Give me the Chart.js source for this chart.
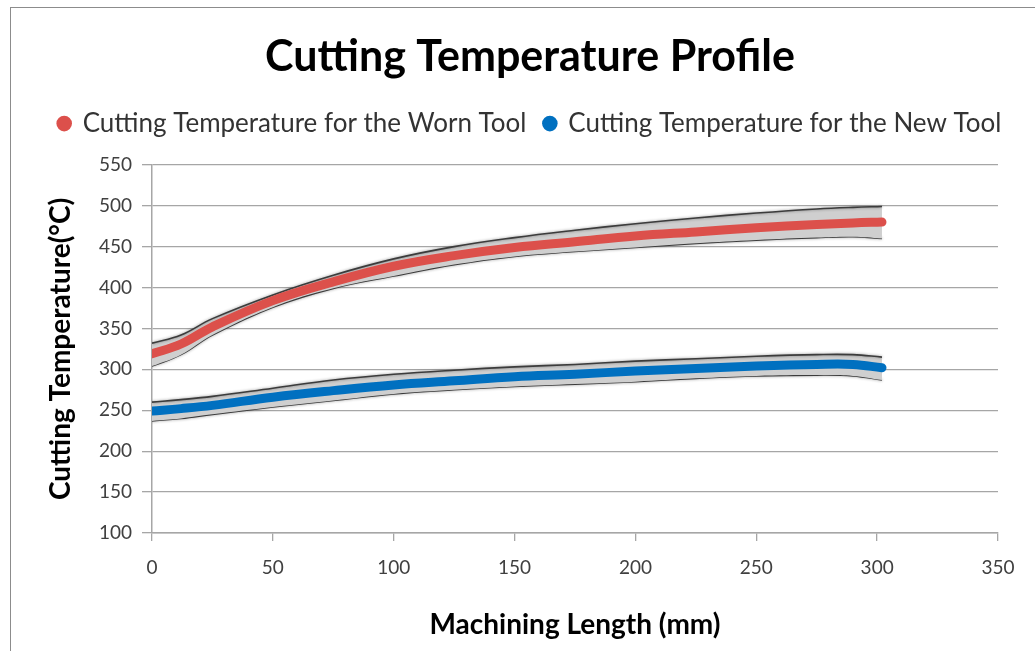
<!DOCTYPE html>
<html>
<head>
<meta charset="utf-8">
<script src="https://cdn.jsdelivr.net/npm/chart.js@4/dist/chart.umd.min.js"></script>
<style>
  html, body { margin: 0; padding: 0; background: #fff; }
  .wrap { position: relative; width: 1035px; height: 651px; overflow: hidden; }
  .frame { position: absolute; left: 10px; top: 7px; width: 1100px; height: 700px;
    border-left: 1.5px solid #8c8c8c; border-top: 1.5px solid #8c8c8c; }
  canvas { position: absolute; left: 0; top: 0; }
</style>
</head>
<body>
<div class="wrap">
  <div class="frame"></div>
  <canvas id="c" width="1035" height="651"></canvas>
</div>
<script>
// ===== data =====
const lengths   = [0, 12, 25, 50, 75, 100, 125, 150, 175, 200, 225, 250, 275, 290, 302];

const wornTemp  = [319, 331, 352, 384, 407, 426, 439, 449, 456, 463, 468, 473, 477, 479, 480];
const wornUpper = [332, 342, 362, 391, 415, 435, 450, 461, 470, 478, 485, 491, 496, 498, 499];
const wornLower = [304, 318, 342, 376, 399, 414, 428, 438, 444, 449, 454, 458, 461, 462, 460];

const newTemp   = [249, 252, 256, 266, 274, 281, 286, 291, 294, 298, 301, 304, 306, 306, 302];
const newUpper  = [260, 263, 267, 277, 287, 294, 299, 303, 306, 310, 313, 316, 318, 318, 315];
const newLower  = [237, 240, 245, 254, 262, 270, 275, 279, 282, 285, 289, 292, 293, 292, 287];

const xTicks = [0, 50, 100, 150, 200, 250, 300, 350];
const yTicks = [100, 150, 200, 250, 300, 350, 400, 450, 500, 550];

const RED = '#dc504b';
const BLUE = '#0070c0';
const FONT = 'Lato, "Open Sans", sans-serif';

function pts(ys) { return lengths.map((x, i) => ({ x, y: ys[i] })); }

// 中心粗线
function mainLine(label, ys, color) {
  return {
    label, data: pts(ys), order: 0,
    borderColor: color, backgroundColor: color, borderWidth: 9,
    borderCapStyle: 'round', borderJoinStyle: 'round',
    tension: 0.4, pointRadius: 0, fill: false,
  };
}
// 灰色误差带：上沿填充到下一条（下沿）
function bandEdge(ys, fillNext) {
  return {
    label: '', data: pts(ys), order: 1, band: true,
    borderColor: '#3c3c3c', borderWidth: 1.6,
    backgroundColor: '#cfcfcf',
    tension: 0.4, pointRadius: 0,
    fill: fillNext ? '+1' : false,
  };
}

const datasets = [
  mainLine('Cutting Temperature for the Worn Tool', wornTemp, RED),
  mainLine('Cutting Temperature for the New Tool', newTemp, BLUE),
  bandEdge(wornUpper, true), bandEdge(wornLower, false),
  bandEdge(newUpper, true), bandEdge(newLower, false),
];

// 误差带边缘带一点模糊阴影，和原图接近
const softEdge = {
  id: 'softEdge',
  beforeDatasetDraw(chart, args) {
    if (!args.meta._dataset.band) return;
    const ctx = chart.ctx;
    ctx.save();
    ctx.shadowColor = 'rgba(0,0,0,0.45)';
    ctx.shadowBlur = 3;
  },
  afterDatasetDraw(chart, args) {
    if (args.meta._dataset.band) chart.ctx.restore();
  },
};

const GRID = '#a6a6a6';

new Chart(document.getElementById('c'), {
  type: 'line',
  data: { datasets },
  plugins: [softEdge],
  options: {
    responsive: false,
    animation: false,
    layout: { padding: { left: 25, right: 0, top: 0, bottom: 0 } },
    plugins: {
      title: {
        display: true, text: 'Cutting Temperature Profile', color: '#000',
        font: { family: FONT, size: 43, weight: 'bold' },
        padding: { top: 31, bottom: 10 },
      },
      // 空白副标题放在图例和绘图区之间，当作间隔
      subtitle: { display: true, text: '', weight: 500, font: { size: 1 }, padding: { top: 17, bottom: 0 } },
      legend: {
        labels: {
          usePointStyle: true, pointStyle: 'circle', boxWidth: 11, boxHeight: 11,
          padding: 18, color: '#333',
          font: { family: FONT, size: 26 },
          generateLabels(chart) {
            return Chart.defaults.plugins.legend.labels.generateLabels(chart)
              .filter((l) => l.text)
              .map((l) => ({ ...l, lineWidth: 0 }));
          },
        },
      },
      tooltip: { enabled: false },
    },
    scales: {
      x: {
        type: 'linear', min: 0, max: 350,
        afterBuildTicks: (s) => { s.ticks = xTicks.map((v) => ({ value: v })); },
        afterFit: (s) => { s.height = 118; s.paddingRight = 37; },
        ticks: { color: '#404040', padding: 15, font: { family: FONT, size: 19 } },
        grid: { display: true, drawOnChartArea: false, drawTicks: true, tickLength: 8, color: GRID, lineWidth: 1.3 },
        border: { display: true, color: GRID, width: 1.5 },
        title: {
          display: true, text: 'Machining Length (mm)', color: '#000',
          font: { family: FONT, size: 28, weight: 'bold' },
          padding: { top: 0, bottom: 9 },
        },
      },
      y: {
        min: 100, max: 550,
        afterBuildTicks: (s) => { s.ticks = yTicks.map((v) => ({ value: v })); },
        afterFit: (s) => { s.width = 127; },
        ticks: { color: '#404040', padding: 10, font: { family: FONT, size: 19 } },
        grid: { color: GRID, lineWidth: 1.3, tickLength: 10 },
        border: { display: true, color: GRID, width: 1.5 },
        title: {
          display: true, text: 'Cutting Temperature(°C)', color: '#000',
          font: { family: FONT, size: 28, weight: 'bold' },
          padding: { top: 19, bottom: 0 },
        },
      },
    },
  },
});
</script>
</body>
</html>
